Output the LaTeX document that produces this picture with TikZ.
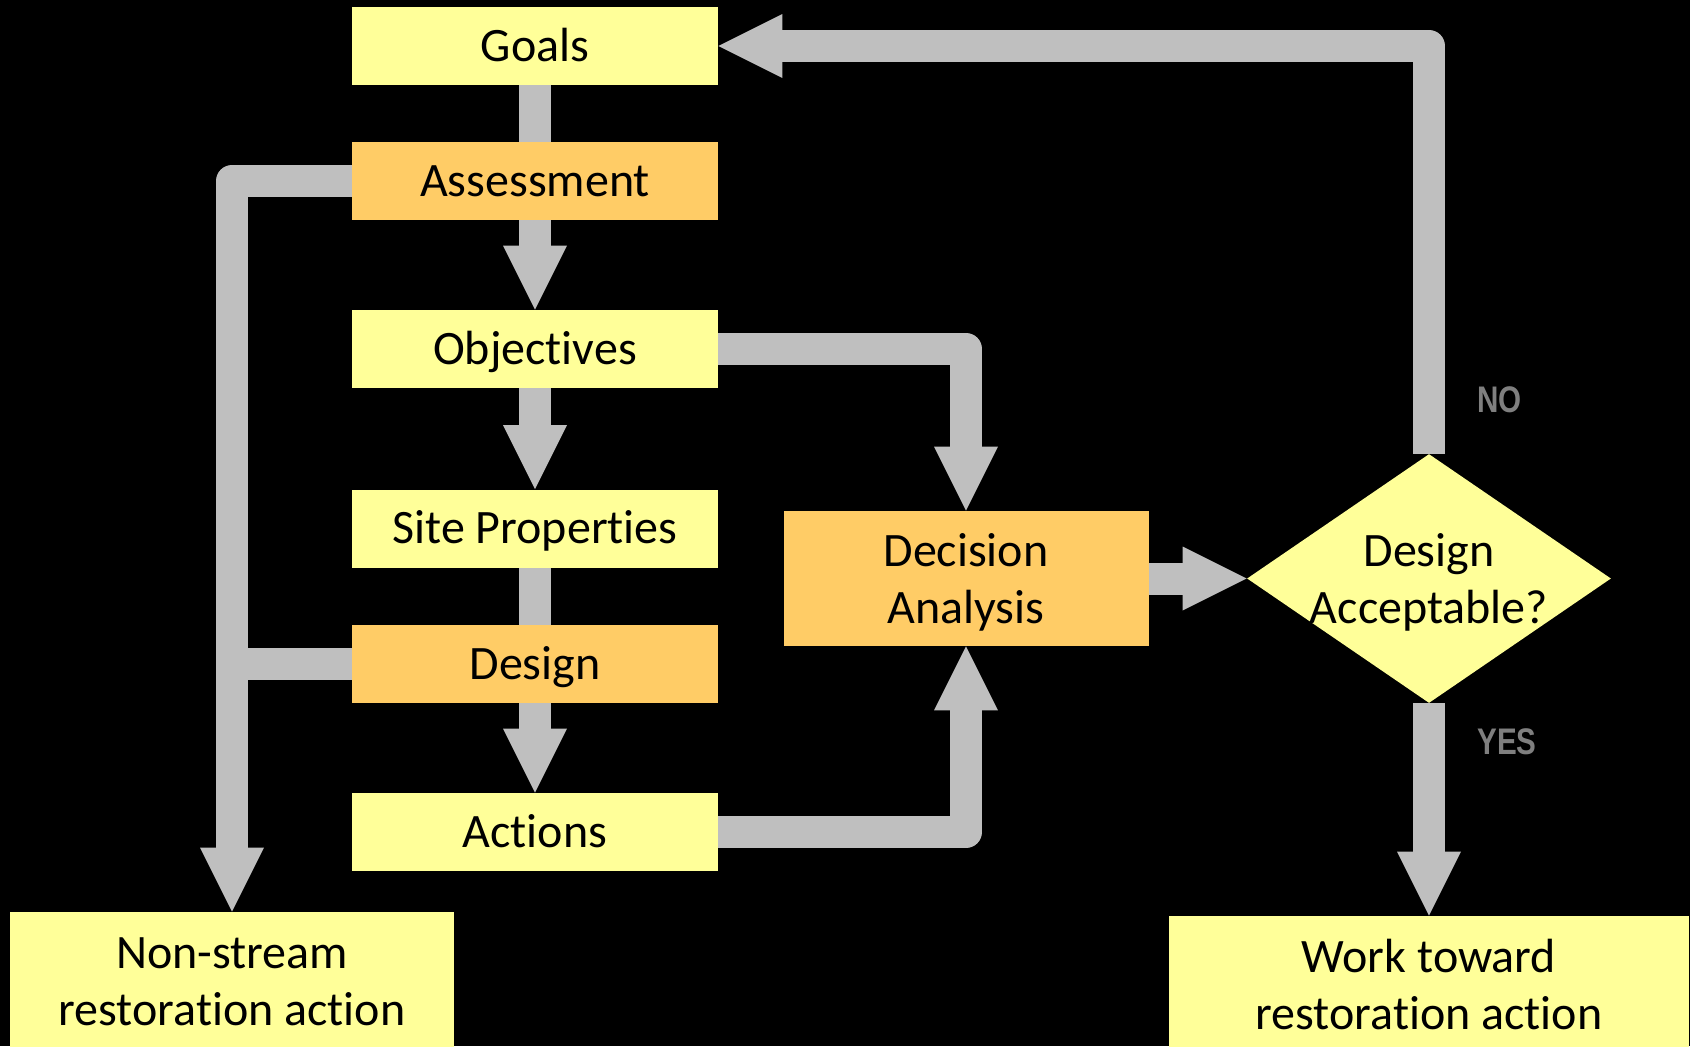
\documentclass[tikz,border=0pt]{standalone}
\usepackage{fontspec}
\setmainfont{Carlito}[Ligatures=NoCommon]
\newfontfamily\tagfont[FakeStretch=0.8]{Liberation Sans}
\usetikzlibrary{arrows.meta,shapes.geometric}

\definecolor{paleyellow}{HTML}{FFFF99}
\definecolor{softorange}{HTML}{FFCC66}
\definecolor{pipegray}{HTML}{BFBFBF}
\definecolor{taggray}{HTML}{7F7F7F}

\tikzset{
	boxtext/.style={align=center,text depth=0pt,font=\fontsize{24pt}{28.5pt}\selectfont},
	cell/.style={boxtext,fill=paleyellow},
	box/.style={cell,minimum width=183pt,minimum height=39pt,text height=15pt},
	decide/.style={diamond,fill=paleyellow,minimum width=182pt,minimum height=124.5pt},
	pipe/.style={draw=pipegray,line width=16pt,line join=round},
	flow/.style={pipe,-{Triangle[width=32pt,length=32pt,line width=0pt]}},
	tag/.style={anchor=west,text=taggray,font=\tagfont\bfseries\fontsize{18.5pt}{20pt}\selectfont}
}

\begin{document}
\begin{tikzpicture}[x=0.5pt,y=-0.5pt]
	\tikzstyle{every node}+=[inner sep=0pt]
	\useasboundingbox (0,0) rectangle (1690,1046);
	\fill[black] (0,0) rectangle (1690,1046);
	\clip (0,0) rectangle (1690,1046);

	% main column
	\node[box] (goals) at (535,46) {Goals};
	\node[box,fill=softorange] (assess) at (535,181) {Assessment};
	\node[box] (objs) at (535,349) {Objectives};
	\node[box] (site) at (535,528.5) {Site Properties};
	\node[box,fill=softorange] (design) at (535,664) {Design};
	\node[box] (actions) at (535,832) {Actions};

	% decision and outcomes
	\node[cell,fill=softorange,minimum width=182.5pt,minimum height=67.5pt] (decision) at (966,578.5) {Decision\\Analysis};
	\node[decide,label={[boxtext]center:{Design\\Acceptable?}}] (accept) at (1429,578.5) {};
	\node[cell,minimum width=222pt,minimum height=69.5pt] (nonstream) at (232,981.5) {Non-stream\\restoration action};
	\node[cell,minimum width=260pt,minimum height=68pt] (work) at (1429,984) {Work toward\\restoration action};

	\node[tag] (no) at (1477,400) {NO};
	\node[tag] (yes) at (1477,742) {YES};

	% connectors
	\draw[pipe] (goals) -- (assess);
	\draw[flow] (assess) -- (objs);
	\draw[flow] (objs) -- (site);
	\draw[pipe] (site) -- (design);
	\draw[flow] (design) -- (actions);
	\draw[flow] (assess.west) -| (nonstream.north);
	\draw[pipe] (design.west) -- (design.west -| nonstream.north);
	\draw[flow] (objs.east) -| (decision.north);
	\draw[flow] (actions.east) -| (decision.south);
	\draw[flow] (decision) -- (accept);
	\draw[flow] (accept.north) |- (goals.east);
	\draw[flow] (accept) -- (work);
\end{tikzpicture}
\end{document}
